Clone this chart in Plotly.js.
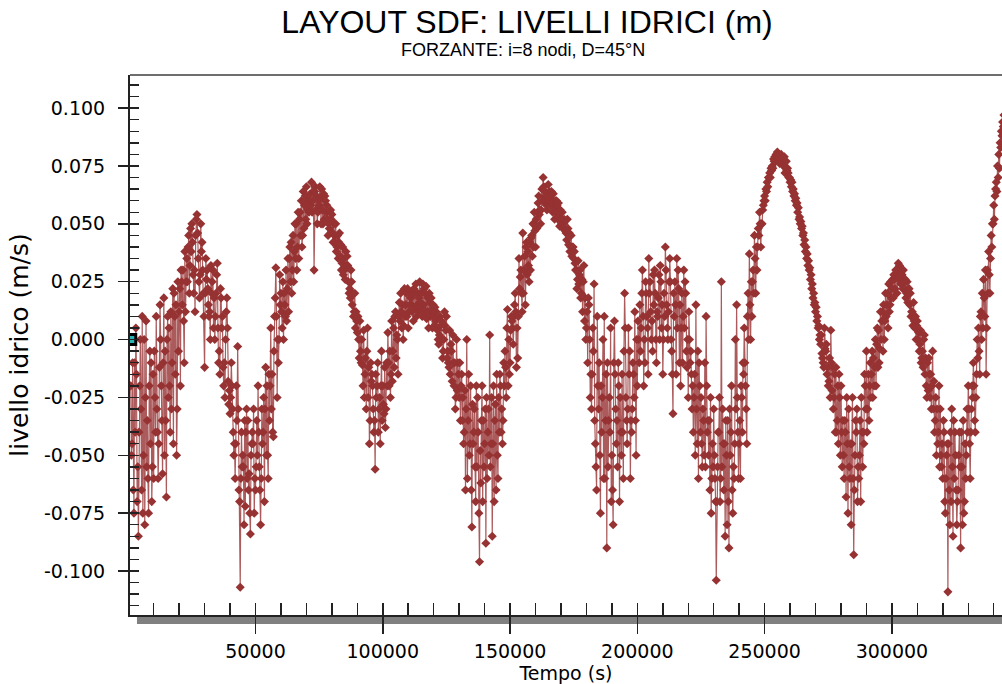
<!DOCTYPE html>
<html>
<head>
<meta charset="utf-8">
<script src="https://cdn.plot.ly/plotly-3.0.1.min.js"></script>
<style>
  html, body { margin: 0; padding: 0; background: #ffffff; }
  #chart { width: 1002px; height: 684px; }
</style>
</head>
<body>
<div id="chart"></div>
<script>
// ---- data ----
const timeStart = 1000;   // s, first sample
const timeStep = 1000;    // s, spacing inside each of the four sample sets below

// samples at t = 1000, 2000, 3000, ... s
const livelloIdrico = [
  -0.02, -0.065, 0.005, -0.085, -0.03, -0.05, 0.008, -0.075, -0.01, -0.06,
  0.01, -0.045, -0.02, 0.018, -0.068, 0.005, -0.03, 0.02, -0.05, 0.012,
  0.025, -0.01, 0.035, 0.02, 0.05, 0.03, 0.054, 0.018, 0.042, -0.012,
  0.03, 0.012, 0.025, 0.0, 0.033, -0.015, 0.01, -0.025, 0.005, -0.032,
  -0.03, -0.06, -0.003, -0.107, -0.05, -0.072, -0.035, -0.084, -0.045, -0.065,
  -0.02, -0.08, -0.04, -0.012, -0.06, 0.005, -0.042, 0.031, -0.01, 0.02,
  0.0, 0.03, 0.012, 0.042, 0.025, 0.05, 0.035, 0.06, 0.048, 0.066,
  0.055, 0.068, 0.03, 0.062, 0.058, 0.065, 0.052, 0.058, 0.048, 0.054,
  0.045, 0.04, 0.046, 0.033, 0.03, 0.036, 0.022, 0.015, 0.02, 0.003,
  0.008, -0.011, -0.015, 0.005, -0.035, -0.02, -0.056, -0.01, -0.045, -0.02,
  -0.038, 0.003, -0.025, -0.005, 0.012, -0.015, 0.02, 0.0, 0.015, 0.005,
  0.018, 0.008, 0.024, 0.012, 0.02, 0.015, 0.023, 0.005, 0.018, 0.01,
  0.012, -0.002, 0.008, 0.0, 0.01, -0.012, -0.005, -0.02, 0.0, -0.025,
  -0.015, -0.04, 0.0, -0.05, -0.081, -0.03, -0.055, -0.096, -0.02, -0.045,
  -0.06, 0.002, -0.085, -0.035, -0.05, -0.015, -0.045, -0.005, 0.013, -0.01,
  0.005, 0.02, -0.008, 0.027, 0.046, 0.015, 0.038, 0.03, 0.05, 0.04,
  0.059, 0.05, 0.07, 0.062, 0.067, 0.058, 0.063, 0.055, 0.059, 0.052,
  0.05, 0.046, 0.041, 0.045, 0.035, 0.03, 0.024, 0.02, 0.032, 0.005,
  0.015, -0.03, 0.024, -0.065, -0.01, -0.04, 0.01, -0.09, -0.025, -0.05,
  0.008, -0.035, -0.07, -0.015, 0.02, -0.045, -0.005, -0.03, 0.012, -0.02,
  0.015, 0.03, -0.01, 0.005, 0.025, -0.005, 0.02, 0.01, 0.032, -0.015,
  0.04, 0.0, 0.025, -0.032, 0.015, 0.03, -0.02, 0.01, 0.02, -0.025,
  -0.005, -0.04, 0.015, -0.06, -0.025, -0.035, 0.01, -0.05, -0.075, -0.03,
  -0.104, -0.04, 0.025, -0.065, -0.05, -0.09, -0.02, -0.06, 0.015, -0.045,
  -0.025, 0.005, -0.045, 0.037, 0.01, 0.045, 0.03, 0.055, 0.05, 0.062,
  0.068, 0.072, 0.075, 0.079, 0.081, 0.076, 0.078, 0.072, 0.074, 0.068,
  0.064, 0.06, 0.055, 0.05, 0.045, 0.038, 0.032, 0.026, 0.018, 0.012,
  0.005, -0.002, -0.01, -0.005, -0.02, 0.004, -0.03, -0.012, -0.045, -0.02,
  -0.05, -0.068, -0.03, -0.08, -0.093, -0.04, -0.06, -0.025, -0.045, -0.005,
  -0.035, -0.015, -0.02, -0.002, -0.01, 0.008, 0.0, 0.015, 0.012, 0.022,
  0.026, 0.02, 0.032, 0.028, 0.022, 0.025, 0.015, 0.012, 0.005, 0.008,
  -0.002, -0.005, -0.015, -0.01, -0.025, -0.005, -0.035, -0.045, -0.03, -0.06,
  -0.075, -0.109, -0.04, -0.085, -0.05, -0.065, -0.09, -0.035, -0.06, -0.02,
  -0.04, -0.01, -0.025, 0.005, 0.012, 0.026, -0.015, 0.038, 0.045, 0.058,
  0.068, 0.08, 0.09, 0.097
];

// samples at t = 1250, 2250, 3250, ... s
const livelloIdricoQ1 = [
  -0.05, -0.075, -0.015, -0.04, -0.065, 0.0, -0.055, -0.02, -0.07, -0.005,
  -0.03, -0.012, -0.035, -0.05, 0.0, -0.02, -0.01, 0.01, -0.03, 0.022,
  0.015, 0.038, 0.025, 0.032, 0.042, 0.012, 0.046, 0.028, 0.03, 0.02,
  0.022, 0.0, 0.03, 0.01, 0.005, 0.022, -0.012, 0.0, -0.018, -0.025,
  -0.04, -0.045, -0.03, -0.06, -0.055, -0.04, -0.065, -0.05, -0.03, -0.055,
  -0.04, -0.06, -0.025, -0.05, -0.015, -0.03, -0.005, 0.01, 0.0, 0.012,
  0.02, 0.008, 0.035, 0.02, 0.038, 0.03, 0.052, 0.04, 0.058, 0.05,
  0.06, 0.055, 0.064, 0.05, 0.066, 0.056, 0.062, 0.052, 0.055, 0.046,
  0.042, 0.045, 0.036, 0.04, 0.026, 0.032, 0.018, 0.02, 0.005, 0.01,
  -0.005, -0.02, -0.008, -0.025, -0.01, -0.03, -0.015, -0.04, -0.02, -0.028,
  -0.03, -0.01, -0.015, 0.005, -0.008, 0.01, 0.012, 0.006, 0.02, 0.012,
  0.015, 0.022, 0.01, 0.018, 0.014, 0.022, 0.009, 0.02, 0.013, 0.006,
  0.009, 0.002, 0.0, 0.012, -0.008, 0.004, -0.018, -0.01, -0.022, -0.01,
  -0.035, -0.022, -0.06, -0.045, -0.028, -0.055, -0.025, -0.048, -0.07, -0.03,
  -0.04, -0.055, -0.045, -0.028, -0.06, -0.02, -0.035, -0.012, -0.02, 0.004,
  -0.002, 0.012, 0.01, 0.03, 0.02, 0.04, 0.032, 0.044, 0.04, 0.052,
  0.062, 0.056, 0.066, 0.058, 0.06, 0.064, 0.057, 0.06, 0.054, 0.05,
  0.052, 0.043, 0.046, 0.036, 0.038, 0.022, 0.028, 0.026, 0.008, 0.012,
  0.0, -0.015, -0.035, 0.01, -0.05, -0.025, -0.06, -0.01, -0.04, -0.065,
  -0.015, -0.055, -0.025, -0.04, 0.005, -0.03, -0.06, -0.01, -0.035, 0.008,
  -0.005, 0.01, 0.025, -0.015, 0.012, 0.028, 0.0, 0.018, 0.025, 0.0,
  0.03, 0.012, 0.0, 0.02, -0.015, 0.022, 0.005, 0.03, -0.005, 0.012,
  -0.015, -0.025, -0.03, -0.01, -0.045, -0.05, -0.02, -0.035, -0.06, -0.05,
  -0.07, -0.025, -0.055, -0.045, -0.08, -0.03, -0.065, -0.045, -0.025, -0.035,
  -0.04, -0.01, 0.01, 0.015, 0.025, 0.035, 0.04, 0.05, 0.056, 0.06,
  0.066, 0.07, 0.074, 0.077, 0.079, 0.078, 0.076, 0.074, 0.072, 0.069,
  0.065, 0.061, 0.057, 0.051, 0.046, 0.04, 0.034, 0.028, 0.02, 0.014,
  0.006, 0.002, -0.012, -0.002, -0.018, -0.01, -0.025, -0.04, -0.015, -0.04,
  -0.06, -0.025, -0.055, -0.045, -0.065, -0.03, -0.05, -0.04, -0.015, -0.04,
  -0.02, -0.005, -0.012, 0.005, -0.004, 0.012, 0.008, 0.02, 0.015, 0.026,
  0.022, 0.028, 0.03, 0.022, 0.026, 0.016, 0.02, 0.006, 0.01, 0.0,
  0.004, -0.012, -0.008, -0.022, -0.015, -0.03, -0.025, -0.04, -0.05, -0.035,
  -0.06, -0.045, -0.07, -0.035, -0.065, -0.05, -0.04, -0.075, -0.05, -0.03,
  -0.03, -0.02, -0.015, -0.005, 0.0, 0.018, 0.005, 0.028, 0.04, 0.052,
  0.064, 0.074, 0.088
];

// samples at t = 1500, 2500, 3500, ... s
const livelloIdricoMezzi = [
  -0.045, -0.01, -0.07, -0.02, 0.01, -0.08, -0.035, -0.005, -0.055, -0.025,
  -0.04, 0.015, -0.058, -0.005, 0.01, -0.04, 0.022, -0.015, 0.025, -0.02,
  0.03, 0.012, 0.04, 0.048, 0.028, 0.045, 0.035, 0.05, 0.02, 0.035,
  0.015, 0.032, 0.005, 0.02, -0.01, 0.018, -0.02, 0.012, -0.028, -0.01,
  -0.05, -0.02, -0.065, -0.04, -0.08, -0.03, -0.058, -0.045, -0.075, -0.035,
  -0.055, -0.03, -0.07, -0.02, -0.035, -0.015, 0.01, -0.025, 0.028, 0.005,
  0.015, 0.022, 0.04, 0.03, 0.05, 0.04, 0.055, 0.045, 0.062, 0.056,
  0.063, 0.06, 0.066, 0.055, 0.061, 0.05, 0.06, 0.045, 0.056, 0.042,
  0.05, 0.035, 0.041, 0.028, 0.038, 0.025, 0.03, 0.01, 0.012, 0.0,
  -0.01, 0.004, -0.03, -0.012, -0.018, -0.04, -0.025, -0.03, -0.005, -0.032,
  -0.01, -0.02, 0.008, -0.012, 0.002, 0.016, 0.005, 0.022, 0.01, 0.02,
  0.012, 0.02, 0.015, 0.025, 0.01, 0.02, 0.012, 0.016, 0.005, 0.014,
  0.004, 0.01, -0.008, 0.006, -0.005, -0.015, 0.002, -0.03, -0.01, -0.035,
  -0.025, -0.065, -0.035, -0.02, -0.045, -0.07, -0.04, -0.062, -0.035, -0.088,
  -0.03, -0.045, -0.02, -0.065, -0.025, -0.04, -0.01, -0.025, 0.0, 0.01,
  0.01, -0.012, 0.035, 0.02, 0.03, 0.042, 0.025, 0.045, 0.055, 0.048,
  0.054, 0.065, 0.06, 0.056, 0.064, 0.06, 0.052, 0.058, 0.049, 0.055,
  0.048, 0.052, 0.038, 0.04, 0.033, 0.026, 0.03, 0.012, 0.018, -0.01,
  -0.025, 0.005, -0.045, -0.02, -0.075, 0.0, -0.035, -0.055, 0.005, -0.08,
  -0.03, -0.01, -0.04, -0.06, -0.025, 0.005, -0.035, -0.015, -0.05, 0.0,
  0.005, -0.02, 0.02, 0.035, 0.0, 0.015, -0.01, 0.028, 0.005, 0.02,
  0.015, 0.025, -0.005, 0.01, 0.035, -0.01, 0.02, 0.005, -0.012, 0.0,
  -0.03, -0.015, -0.045, -0.02, -0.055, -0.01, -0.04, -0.065, -0.045, -0.06,
  -0.055, -0.07, -0.03, -0.085, -0.035, -0.05, -0.075, 0.0, -0.04, -0.06,
  -0.01, -0.02, 0.02, 0.0, 0.03, 0.02, 0.048, 0.04, 0.058, 0.065,
  0.07, 0.074, 0.078, 0.08, 0.077, 0.08, 0.075, 0.077, 0.07, 0.066,
  0.062, 0.058, 0.052, 0.048, 0.041, 0.035, 0.03, 0.022, 0.015, 0.008,
  0.0, -0.006, 0.005, -0.015, -0.008, -0.022, -0.015, -0.035, -0.025, -0.055,
  -0.035, -0.045, -0.06, -0.025, -0.05, -0.07, -0.035, -0.055, -0.02, -0.03,
  -0.01, -0.025, 0.0, -0.012, 0.012, -0.005, 0.02, 0.005, 0.025, 0.018,
  0.03, 0.033, 0.024, 0.03, 0.018, 0.02, 0.01, 0.016, 0.0, 0.003,
  -0.01, 0.0, -0.02, -0.008, -0.03, -0.018, -0.05, -0.02, -0.055, -0.04,
  -0.05, -0.065, -0.03, -0.06, -0.08, -0.04, -0.055, -0.07, -0.03, -0.045,
  -0.02, -0.035, 0.0, -0.015, 0.02, 0.01, 0.03, 0.02, 0.05, 0.062,
  0.075, 0.085, 0.094
];

// samples at t = 1750, 2750, 3750, ... s
const livelloIdricoQ3 = [
  -0.01, -0.04, -0.055, 0.0, -0.075, -0.025, -0.06, -0.045, -0.015, -0.04,
  -0.06, 0.0, -0.01, -0.035, -0.025, 0.012, -0.045, 0.015, -0.005, 0.03,
  0.008, 0.025, 0.045, 0.038, 0.02, 0.052, 0.025, 0.038, 0.01, 0.026,
  0.01, 0.02, 0.018, 0.028, -0.005, 0.005, -0.01, 0.018, -0.022, -0.02,
  -0.045, -0.035, -0.07, -0.055, -0.035, -0.06, -0.075, -0.04, -0.06, -0.05,
  -0.065, -0.045, -0.03, -0.05, -0.02, -0.04, 0.018, 0.0, 0.015, 0.025,
  0.01, 0.035, 0.025, 0.045, 0.035, 0.055, 0.045, 0.064, 0.052, 0.06,
  0.058, 0.064, 0.056, 0.06, 0.05, 0.063, 0.055, 0.05, 0.052, 0.05,
  0.038, 0.042, 0.03, 0.035, 0.032, 0.02, 0.025, 0.012, 0.008, -0.008,
  0.0, -0.025, -0.005, -0.045, -0.015, -0.035, -0.02, -0.025, -0.035, -0.012,
  -0.02, -0.005, -0.018, 0.01, 0.0, 0.008, 0.015, 0.01, 0.022, 0.015,
  0.02, 0.014, 0.02, 0.016, 0.024, 0.012, 0.018, 0.01, 0.015, 0.008,
  0.0, 0.006, -0.005, 0.004, -0.01, -0.002, -0.01, -0.025, -0.015, -0.02,
  -0.045, -0.03, -0.015, -0.065, -0.04, -0.02, -0.075, -0.035, -0.055, -0.025,
  -0.05, -0.025, -0.07, -0.015, -0.04, -0.03, -0.02, 0.005, -0.015, 0.008,
  0.015, 0.005, 0.022, 0.012, 0.036, 0.028, 0.042, 0.036, 0.047, 0.055,
  0.056, 0.06, 0.064, 0.06, 0.062, 0.055, 0.06, 0.052, 0.056, 0.048,
  0.047, 0.048, 0.04, 0.04, 0.03, 0.034, 0.018, 0.025, 0.0, 0.018,
  -0.015, -0.005, -0.055, -0.03, -0.02, -0.06, -0.015, -0.035, -0.07, -0.01,
  -0.045, -0.02, -0.05, -0.005, -0.035, -0.015, -0.04, -0.025, 0.0, -0.01,
  0.02, 0.0, 0.01, 0.02, 0.008, 0.03, 0.012, 0.0, 0.015, 0.01,
  0.005, 0.035, -0.015, 0.025, 0.005, 0.015, -0.01, 0.025, 0.0, -0.01,
  -0.02, -0.05, -0.005, -0.04, -0.03, -0.055, -0.035, -0.025, -0.055, -0.07,
  -0.04, -0.06, -0.045, -0.035, -0.07, -0.04, -0.055, -0.03, -0.06, -0.02,
  -0.015, -0.03, 0.0, 0.025, 0.02, 0.04, 0.045, 0.05, 0.06, 0.064,
  0.07, 0.073, 0.077, 0.08, 0.078, 0.077, 0.079, 0.073, 0.07, 0.068,
  0.063, 0.059, 0.053, 0.049, 0.043, 0.037, 0.031, 0.024, 0.016, 0.01,
  0.002, -0.008, -0.004, -0.012, -0.025, -0.012, -0.04, -0.02, -0.05, -0.035,
  -0.04, -0.075, -0.045, -0.06, -0.035, -0.055, -0.07, -0.04, -0.03, -0.015,
  -0.025, -0.008, -0.02, 0.004, 0.0, 0.015, 0.01, 0.024, 0.018, 0.028,
  0.03, 0.026, 0.028, 0.025, 0.02, 0.022, 0.012, 0.008, 0.006, -0.005,
  -0.008, 0.002, -0.025, -0.015, -0.02, -0.04, -0.03, -0.055, -0.045, -0.07,
  -0.045, -0.08, -0.055, -0.04, -0.07, -0.055, -0.08, -0.045, -0.04, -0.06,
  -0.025, -0.04, -0.008, 0.01, 0.005, 0.03, 0.02, 0.035, 0.05, 0.065,
  0.07, 0.083, 0.092
];

// merge the four sample sets in time order
const tempo = [];
const livello = [];
livelloIdrico.forEach((v, i) => {
  const t0 = timeStart + i * timeStep;
  tempo.push(t0);
  livello.push(v);
  if (i < livelloIdricoQ1.length) {
    tempo.push(t0 + timeStep / 4, t0 + timeStep / 2, t0 + 3 * timeStep / 4);
    livello.push(livelloIdricoQ1[i], livelloIdricoMezzi[i], livelloIdricoQ3[i]);
  }
});

// selected point marker (cursor) shown at the start of the series
const selectedTime = [1000];
const selectedValue = [0];

const yTickVals = [-0.1, -0.075, -0.05, -0.025, 0, 0.025, 0.05, 0.075, 0.1];
const yTickText = ["-0.100", "-0.075", "-0.050", "-0.025", "0.000", "0.025", "0.050", "0.075", "0.100"];
const xTickVals = [50000, 100000, 150000, 200000, 250000, 300000];
const xTickText = ["50000", "100000", "150000", "200000", "250000", "300000"];

const xRange = [700, 343250];
const yRange = [-0.119, 0.1143];

// ---- chart ----
const lineColor = '#973233';
const tickFont = { family: 'DejaVu Sans, Verdana, sans-serif', size: 19, color: '#000' };

const traces = [
  {
    type: 'scatter',
    mode: 'lines+markers',
    x: tempo,
    y: livello,
    line: { color: 'rgba(151,50,51,0.8)', width: 1.2 },
    marker: { symbol: 'diamond', size: 7, color: lineColor },
    hoverinfo: 'x+y',
    showlegend: false
  },
  {
    type: 'scatter',
    mode: 'markers',
    x: selectedTime,
    y: selectedValue,
    xaxis: 'x2',
    yaxis: 'y2',
    marker: { symbol: 'square', size: 10, color: '#2bb3b3', line: { color: '#000', width: 3 } },
    hoverinfo: 'skip',
    showlegend: false
  }
];

const layout = {
  width: 1002,
  height: 684,
  paper_bgcolor: '#ffffff',
  plot_bgcolor: '#ffffff',
  margin: { l: 130, r: 0, t: 75, b: 69, pad: 0 },
  showlegend: false,
  title: {
    text: 'LAYOUT SDF: LIVELLI IDRICI (m)',
    font: { family: 'Liberation Sans, Arial, sans-serif', size: 32, color: '#000' },
    xref: 'container', x: 0.526, xanchor: 'center',
    yref: 'container', y: 0.968, yanchor: 'middle'
  },
  annotations: [
    {
      text: 'FORZANTE: i=8 nodi, D=45°N',
      xref: 'paper', yref: 'paper',
      x: 0.4507, y: 1, xanchor: 'center', yanchor: 'middle', yshift: 25,
      showarrow: false,
      font: { family: 'Liberation Sans, Arial, sans-serif', size: 18, color: '#000' }
    }
  ],
  xaxis: {
    range: xRange,
    autorange: false,
    tickvals: xTickVals,
    ticktext: xTickText,
    ticks: 'outside',
    ticklen: 17,
    tickwidth: 1.5,
    tickcolor: '#222',
    tickfont: tickFont,
    ticklabelstandoff: 1,
    showline: true,
    linecolor: '#222',
    linewidth: 2,
    showgrid: false,
    zeroline: false,
    title: { text: 'Tempo (s)', font: { family: 'DejaVu Sans, Verdana, sans-serif', size: 19, color: '#000' }, standoff: 0 }
  },
  xaxis2: {
    matches: 'x',
    overlaying: 'x',
    anchor: 'y',
    range: xRange,
    dtick: 10000,
    tick0: 0,
    ticks: 'inside',
    ticklen: 12,
    tickwidth: 1.5,
    tickcolor: '#222',
    showticklabels: false,
    showline: false,
    showgrid: false,
    zeroline: false
  },
  yaxis: {
    range: yRange,
    autorange: false,
    tickvals: yTickVals,
    ticktext: yTickText,
    ticks: 'outside',
    ticklen: 10,
    tickwidth: 1.5,
    tickcolor: '#222',
    tickfont: tickFont,
    ticklabelstandoff: 9,
    showline: true,
    linecolor: '#222',
    linewidth: 2,
    showgrid: false,
    zeroline: false,
    title: { text: 'livello idrico (m/s)', font: { family: 'DejaVu Sans, Verdana, sans-serif', size: 25, color: '#000' }, standoff: 8 }
  },
  yaxis2: {
    matches: 'y',
    overlaying: 'y',
    anchor: 'x',
    range: yRange,
    dtick: 0.005,
    tick0: 0,
    ticks: 'inside',
    ticklen: 9,
    tickwidth: 1.5,
    tickcolor: '#222',
    showticklabels: false,
    showline: false,
    showgrid: false,
    zeroline: false
  },
  shapes: [
    // grey drop shadow under the time axis
    { type: 'rect', xref: 'paper', yref: 'paper', x0: 0.008, x1: 1, y0: -0.0167, y1: -0.002,
      fillcolor: '#808080', line: { width: 0 }, layer: 'below' },
    // top frame line
    { type: 'line', xref: 'paper', yref: 'paper', x0: 0, x1: 1, y0: 1, y1: 1,
      line: { color: '#6e6e6e', width: 2 }, layer: 'below' }
  ]
};

Plotly.newPlot('chart', traces, layout, { staticPlot: true, displayModeBar: false });
</script>
</body>
</html>
